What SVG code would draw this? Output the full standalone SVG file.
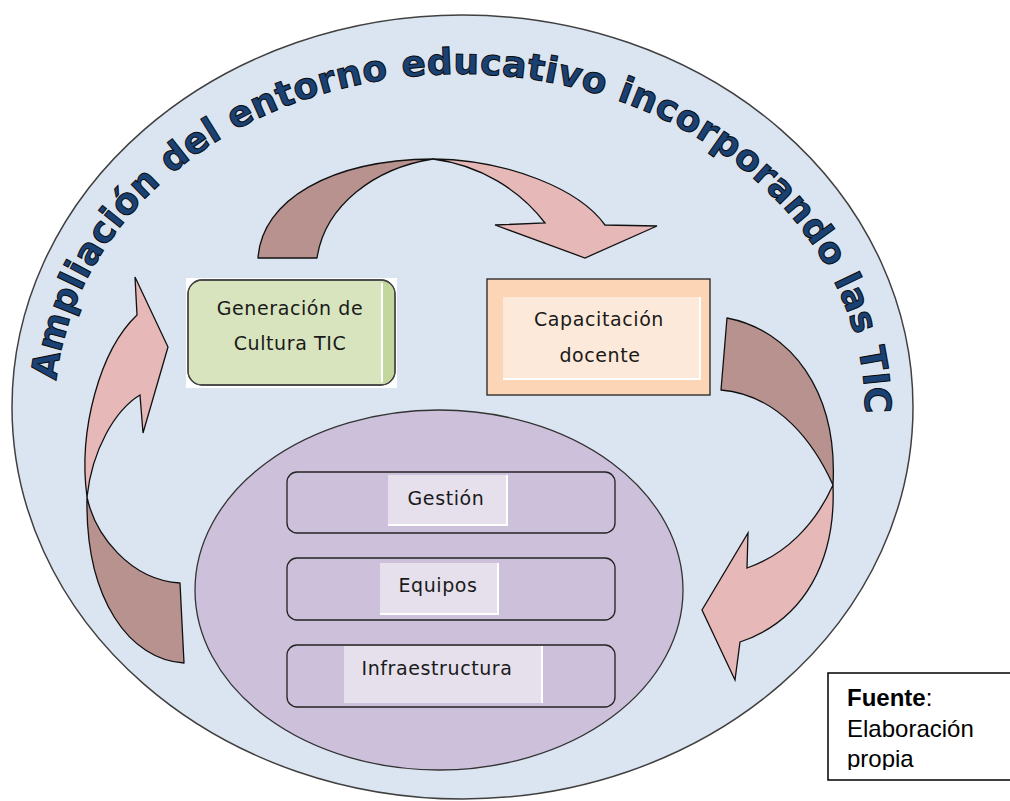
<svg xmlns="http://www.w3.org/2000/svg" width="1010" height="801" viewBox="0 0 1010 801">
<style>
.lbl{font-family:"DejaVu Sans",Verdana,sans-serif;font-size:19px;letter-spacing:0.6px;fill:#1a1a1a;text-anchor:middle}
.back{fill:#b8928f;stroke:#111;stroke-width:1.3;stroke-linejoin:round}
.front{fill:#e6b8b7;stroke:#111;stroke-width:1.3;stroke-linejoin:miter}
.item{fill:#ccc0da;stroke:#222;stroke-width:1.3}
.itemin{fill:#e5e0ec}
.wline{stroke:#fff;stroke-width:2;fill:none}
.title{font-family:"DejaVu Sans",Verdana,sans-serif;font-weight:bold;font-size:36px;letter-spacing:0.5px;fill:#1a4173;stroke:#0a0a0a;stroke-width:1}
.src{font-family:"Liberation Sans",Arial,sans-serif;font-size:24px;fill:#000}
</style>
<defs>
<path id="arc" d="M 56.5,380.7 A 405 336 0 0 1 460,74 A 405 336 0 0 1 864,433.4"/>
<clipPath id="srcclip"><rect x="828" y="673" width="182" height="97"/></clipPath>
</defs>
<rect width="1010" height="801" fill="#fff"/>
<g id="entorno">
<ellipse cx="462.5" cy="407" rx="450.5" ry="392" fill="#dbe5f1" stroke="#404040" stroke-width="1.5"/>
<text class="title"><textPath href="#arc" startOffset="0">Ampliación</textPath></text>
<text class="title"><textPath href="#arc" startOffset="242">del</textPath></text>
<text class="title"><textPath href="#arc" startOffset="319">entorno</textPath></text>
<text class="title"><textPath href="#arc" startOffset="496">educativo</textPath></text>
<text class="title"><textPath href="#arc" startOffset="713">incorporando</textPath></text>
<text class="title"><textPath href="#arc" startOffset="1002">las</textPath></text>
<text class="title"><textPath href="#arc" startOffset="1075">TIC</textPath></text>
</g>
<g id="connectors">
<path class="back" d="M 258,258 C 262,200 330,160 433,159 C 375,168 325,205 317,258 Z"/>
<path class="front" d="M 433,159 C 510,160 580,190 605,225 L 657,226 L 585,258 L 495,225 L 545,223 C 520,190 480,165 433,159 Z"/>
<path class="back" d="M 727,318 C 790,330 838,390 833,485 C 815,445 780,395 721,390 Z"/>
<path class="front" d="M 833,485 C 836,560 805,620 740,642 L 735,680 L 702,610 L 748,533 L 747,568 C 785,555 815,525 833,485 Z"/>
<path class="back" d="M 184,663 C 130,660 85,600 87,497 C 95,535 130,580 180,583 Z"/>
<path class="front" d="M 87,497 C 78,430 100,350 137,315 L 135,277 L 168,347 L 143,433 L 140,395 C 115,410 92,450 87,497 Z"/>
</g>
<g id="cultura">
<rect x="186" y="278" width="211" height="110" fill="#fff"/>
<rect x="188" y="280" width="207" height="105" rx="14" fill="#d7e4bd" stroke="#444" stroke-width="1.3"/>
<path d="M 382,281.5 L 381,281.5 A 12.5 12.5 0 0 1 394,294 L 394,371 A 12.5 12.5 0 0 1 381,383.5 L 383,383.5 Z" fill="#c3d69b"/>
<path d="M 382,283 L 382,382" class="wline" stroke-width="1.5"/>
<rect x="188" y="280" width="207" height="105" rx="14" fill="none" stroke="#444" stroke-width="1.3"/>
<text class="lbl" x="290" y="315">Generación de</text>
<text class="lbl" x="290" y="350">Cultura TIC</text>
</g>
<g id="capacitacion">
<rect x="487" y="279" width="223" height="116" fill="#fbd5b5" stroke="#222" stroke-width="1.3"/>
<rect x="503" y="297" width="197" height="81" fill="#fde9d9"/>
<path d="M 700,297 L 700,379 L 503,379" class="wline"/>
<text class="lbl" x="599" y="326">Capacitación</text>
<text class="lbl" x="600" y="362">docente</text>
</g>
<g id="recursos">
<ellipse cx="439" cy="590" rx="244" ry="180" fill="#ccc0da" stroke="#333" stroke-width="1.3"/>
<g id="gestion">
<rect class="item" x="287" y="472" width="328" height="61" rx="10"/>
<rect class="itemin" x="388" y="475" width="119" height="50"/>
<path d="M 507,475 L 507,525 L 388,525" class="wline"/>
<text class="lbl" x="446" y="505">Gestión</text>
</g>
<g id="equipos">
<rect class="item" x="287" y="558" width="328" height="62" rx="10"/>
<rect class="itemin" x="380" y="563" width="118" height="51"/>
<path d="M 498,563 L 498,614 L 380,614" class="wline"/>
<text class="lbl" x="438" y="592">Equipos</text>
</g>
<g id="infraestructura">
<rect class="item" x="287" y="645" width="328" height="62" rx="10"/>
<rect class="itemin" x="344" y="646" width="198" height="57"/>
<path d="M 542,646 L 542,703" class="wline"/>
<text class="lbl" x="437" y="675">Infraestructura</text>
</g>
</g>
<g id="fuente">
<rect x="828" y="673" width="200" height="107" fill="#fff" stroke="#000" stroke-width="1.5"/>
<g clip-path="url(#srcclip)">
<text class="src" x="847" y="706"><tspan font-weight="bold">Fuente</tspan>:</text>
<text class="src" x="847" y="737">Elaboración</text>
<text class="src" x="847" y="767">propia</text>
</g>
</g>
</svg>
